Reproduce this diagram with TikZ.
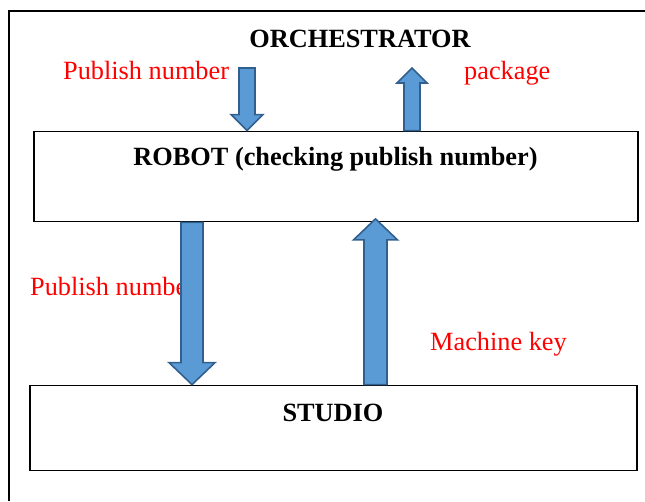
\documentclass[tikz,border=0pt]{standalone}
\usepackage{fontspec}
\setmainfont{Liberation Serif}
\usepackage{tikz}
\usetikzlibrary{calc,positioning}

\definecolor{arrowfill}{HTML}{5B9BD5}
\definecolor{arrowline}{HTML}{31608F}

% block arrow: tail, tip, shaft half width, head half width, head offset
\newcommand{\blockarrow}[5]{%
	\draw[barrow] ($(#1)+(-#3,0)$) -- ($(#2)+(-#3,#5)$) -- ($(#2)+(-#4,#5)$) -- (#2)
	-- ($(#2)+(#4,#5)$) -- ($(#2)+(#3,#5)$) -- ($(#1)+(#3,0)$) -- cycle;}

\begin{document}
\begin{tikzpicture}[x=1pt,y=-1pt,
	box/.style={draw,line width=1.8pt,rectangle,inner sep=0pt},
	title/.style={font=\fontsize{26.3}{30}\selectfont\bfseries,inner sep=0pt,anchor=base},
	lbl/.style={font=\fontsize{26.3}{30}\selectfont,text=red,inner sep=0pt,anchor=base west},
	barrow/.style={fill=arrowfill,draw=arrowline,line width=1.6pt,line join=miter}]
	\useasboundingbox (0,0) rectangle (645,501);
	\draw[line width=1.8pt] (9,501) |- (645,11);

	\node[title] (orch) at (360,47) {ORCHESTRATOR};
	\node[box,minimum width=604pt,minimum height=90pt] (robot) at (336,176.5) {};
	\node[title] (robotlbl) at (335.5,165.7) {ROBOT (checking publish number)};
	\node[box,minimum width=607pt,minimum height=85pt] (studio) at (333.5,428) {};
	\node[title] (studiolbl) at (333,421.5) {STUDIO};

	\node[lbl] (pubtop) at (63,79) {Publish number};
	\node[lbl] (pkg) at (464,79) {package};
	\node[lbl] (publow) at (30,295) {Publish number};
	\node[lbl] (key) at (430,350) {Machine key};

	\coordinate (pubtail) at (247,68);
	\coordinate (pubtip) at (pubtail |- robot.north);
	\coordinate (pkgtip) at (412,68);
	\coordinate (pkgtail) at (pkgtip |- robot.north);
	\coordinate (downtail) at (192,0 |- robot.south);
	\coordinate (downtip) at (downtail |- studio.north);
	\coordinate (uptail) at (375.5,0 |- studio.north);
	\coordinate (uptip) at ($(uptail |- robot.south)+(0,-3.5)$);

	\blockarrow{pubtail}{pubtip}{8}{16}{-16}
	\blockarrow{pkgtail}{pkgtip}{8}{15}{15}
	\blockarrow{downtail}{downtip}{11}{23}{-22}
	\blockarrow{uptail}{uptip}{11.5}{22}{21}
\end{tikzpicture}
\end{document}
